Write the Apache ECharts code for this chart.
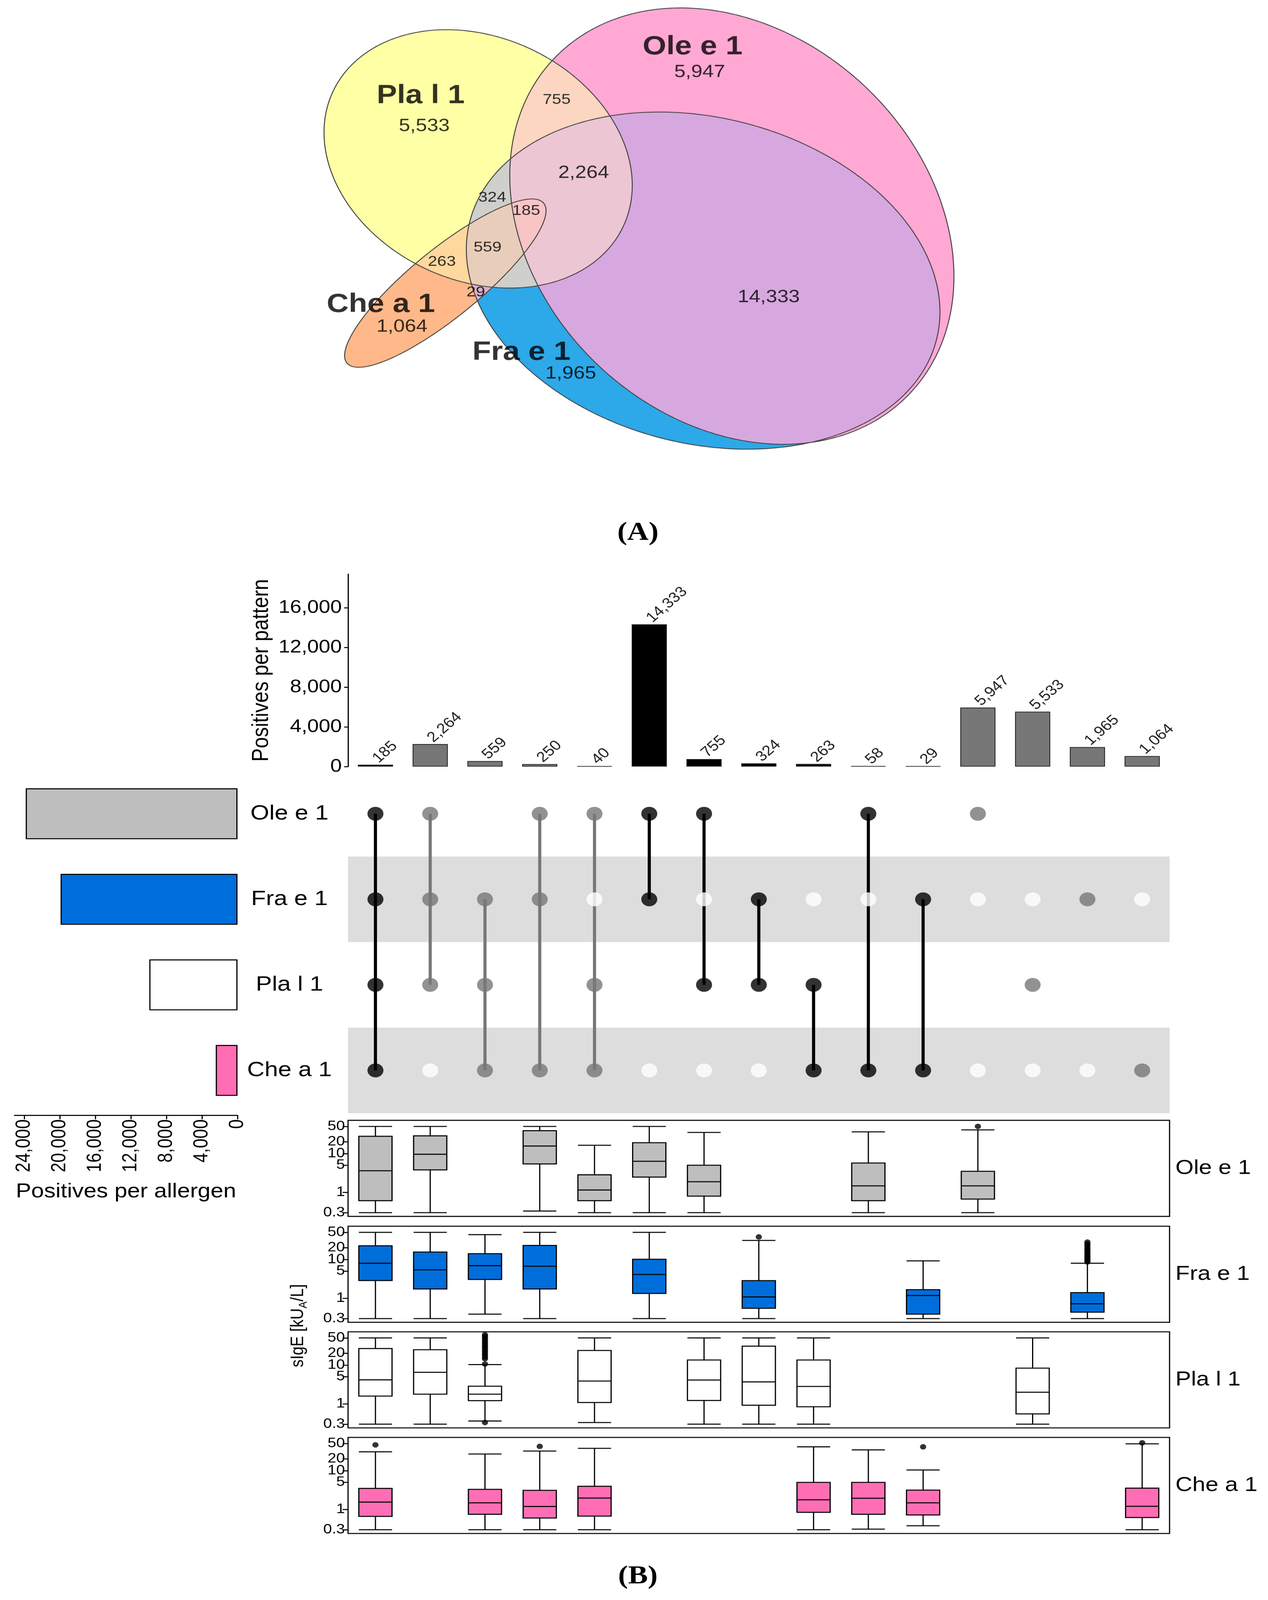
<!DOCTYPE html>
<html><head><meta charset="utf-8">
<script src="https://cdn.jsdelivr.net/npm/echarts@6/dist/echarts.min.js"></script>
<style>html,body{margin:0;padding:0;background:#fff;overflow:hidden}#c{width:3246px;height:4713px;transform-origin:0 0}</style>
</head><body><div id="c"></div>
<script>
// ---------------- DATA ----------------
const allergens = ['Ole e 1','Fra e 1','Pla l 1','Che a 1'];
const patterns = ['OFPC','OFP','FPC','OFC','OPC','OF','OP','FP','PC','OC','FC','O','P','F','C'];
const patternCounts = [185,2264,559,250,40,14333,755,324,263,58,29,5947,5533,1965,1064];
// membership per pattern: [Ole, Fra, Pla, Che]
const patternMembers = [
  [1,1,1,1],[1,1,1,0],[0,1,1,1],[1,1,0,1],[1,0,1,1],[1,1,0,0],[1,0,1,0],
  [0,1,1,0],[0,0,1,1],[1,0,0,1],[0,1,0,1],[1,0,0,0],[0,0,1,0],[0,1,0,0],[0,0,0,1]
];
const patternDark = [1,0,0,0,0,1,1,1,1,1,1,0,0,0,0];
const allergenTotals = [23832,19909,9923,2448];
const countTicks = [0,4000,8000,12000,16000];
const allergenTicks = [0,4000,8000,12000,16000,20000,24000];
const sigeTicks = [0.3,1,5,10,20,50];

// boxplots: [patternIndex, min, Q1, median, Q3, max] in kU/L
const oleBox = [[0,0.3,0.61,3.6,27.9,50],[1,0.3,3.8,9.6,28.5,50],[3,0.33,5.4,15.6,38.9,50],[4,0.3,0.61,1.15,2.83,16.3],[5,0.3,2.47,6.3,19.0,50],[6,0.3,0.8,1.87,5.0,34.9],[9,0.3,0.61,1.47,5.7,36.2],[11,0.3,0.67,1.47,3.48,40.6]];
const oleOut = [[11,50]];
const fraBox = [[0,0.3,2.86,8.0,22.6,50],[1,0.3,1.74,5.4,15.5,50],[2,0.39,3.05,6.9,14.1,43.7],[3,0.3,1.74,6.7,23.0,50],[5,0.3,1.33,4.1,10.1,50],[7,0.3,0.55,1.08,2.84,31],[10,0.3,0.39,1.18,1.67,9.2],[13,0.3,0.44,0.72,1.40,8.0]];
const fraOut = [[7,38],[13,8.6],[13,9.4],[13,10.3],[13,11.2],[13,12.2],[13,13.4],[13,14.8],[13,16.3],[13,18],[13,20],[13,22.5],[13,25],[13,28]];
const plaBox = [[0,0.3,1.59,4.16,26.6,50],[1,0.3,1.77,6.5,24.8,50],[2,0.36,1.21,1.77,2.85,10.3],[4,0.33,1.08,3.87,23.7,50],[6,0.3,1.22,4.1,13.5,50],[7,0.3,0.92,3.67,30.7,50],[8,0.3,0.84,2.8,13.5,50],[12,0.3,0.55,1.99,8.3,50]];
const plaOut = [[2,0.33],[2,10.6],[2,14.5],[2,16],[2,18],[2,20],[2,22.5],[2,25],[2,28],[2,31],[2,35],[2,39],[2,44],[2,49],[2,55],[2,60]];
const cheBox = [[0,0.3,0.66,1.55,3.48,30.5],[2,0.3,0.75,1.48,3.3,26.7],[3,0.3,0.6,1.19,3.1,31.9],[4,0.3,0.67,1.96,3.94,37.5],[8,0.3,0.84,1.77,4.98,41],[9,0.31,0.75,1.94,4.98,34.3],[10,0.38,0.72,1.48,3.15,10.4],[14,0.3,0.62,1.2,3.54,49]];
const cheOut = [[0,46],[3,42],[10,41],[14,52]];

// Euler diagram ellipses (diagram units): centre, semi-axes, rotation (deg)
const vennEllipses = [
  {set:'Ole e 1', cx:624.5, cy:222, rx:174, ry:227, rot:-31},
  {set:'Fra e 1', cx:600, cy:275.5, rx:208, ry:158, rot:21.4},
  {set:'Pla l 1', cx:408, cy:156, rx:142, ry:115, rot:40},
  {set:'Che a 1', cx:380, cy:278, rx:115, ry:31.5, rot:-43.7}
];
const vennTitles = [['Ole e 1',591,46],['Pla l 1',359,94],['Che a 1',325,299],['Fra e 1',445,346]];
// [patternIndex, x, y, big]
const vennCounts = [[11,597,71,1],[12,362,124,1],[6,475,98,0],[1,498,170,1],[7,420,194,0],[0,449,207,0],[2,416,243,0],[8,377,257,0],[10,406,287,0],[14,343,321,1],[13,487,367,1],[5,656,292,1]];

// ---------------- STYLE ----------------
const FONT = '"Liberation Sans", Arial, Helvetica, sans-serif';
const SERIF = '"Liberation Serif", "DejaVu Serif", serif';
const boxColors = ['#BEBEBE','#006EDA','#FFFFFF','#FF6EB4'];
const regionColors = {1:'#FFA8D4',2:'#2DA8E8',4:'#FFFFA6',8:'#FFB889',3:'#D7A8DF',5:'#FDD6C1',6:'#CFCFCB',9:'#F5B3BE',10:'#D9B0CB',12:'#FFD89E',7:'#ECC6D3',11:'#F2B8C8',13:'#F9C9B8',14:'#E8CDBA',15:'#F8C4C6'};
const fmt = v => String(v).replace(/\B(?=(\d{3})+(?!\d))/g, ',');
const L10 = Math.log10;

// ---------------- GEOMETRY (Euler regions) ----------------
function ellipsePoly(e, n) {
  const th = e.rot*Math.PI/180, c = Math.cos(th), s = Math.sin(th), pts = [];
  for (let i=0;i<n;i++){ const t = 2*Math.PI*i/n, u = e.rx*Math.cos(t), v = e.ry*Math.sin(t);
    pts.push([e.cx + u*c - v*s, e.cy + u*s + v*c]); }
  return pts;
}
function clip(subject, clipP) {
  let area = 0;
  for (let i=0;i<clipP.length;i++){ const j=(i+1)%clipP.length; area += clipP[i][0]*clipP[j][1]-clipP[j][0]*clipP[i][1]; }
  const sg = area>0?1:-1;
  let out = subject;
  for (let i=0;i<clipP.length && out.length;i++){
    const a = clipP[i], b = clipP[(i+1)%clipP.length], inp = out; out = [];
    const inside = p => sg*((b[0]-a[0])*(p[1]-a[1])-(b[1]-a[1])*(p[0]-a[0])) >= 0;
    const inter = (p,q) => { const d=(p[0]-q[0])*(a[1]-b[1])-(p[1]-q[1])*(a[0]-b[0]);
      const t=((p[0]-a[0])*(a[1]-b[1])-(p[1]-a[1])*(a[0]-b[0]))/d; return [p[0]+t*(q[0]-p[0]), p[1]+t*(q[1]-p[1])]; };
    for (let k=0;k<inp.length;k++){ const cur=inp[k], prev=inp[(k+inp.length-1)%inp.length];
      const ci=inside(cur), pi=inside(prev);
      if (ci){ if(!pi) out.push(inter(prev,cur)); out.push(cur);} else if (pi) out.push(inter(prev,cur)); }
  }
  return out;
}
const ellPolys = vennEllipses.map(e => ellipsePoly(e, 360));
const popc = m => (m&1)+((m>>1)&1)+((m>>2)&1)+((m>>3)&1);
const masks = []; for (let m=1;m<16;m++) masks.push(m);
masks.sort((a,b)=>popc(a)-popc(b) || a-b);
const regionPolys = {};
masks.forEach(m => { let poly=null; for (let i=0;i<4;i++) if (m&(1<<i)) poly = poly ? clip(poly, ellPolys[i]) : ellPolys[i].slice(); regionPolys[m]=poly; });

// ---------------- LAYOUT ----------------
const GX = 891, GW = 2103;
const boxTops = [3300,3612,3923,4234], BOXH = 283;
const logMin = L10(0.24), logMax = L10(71.8);

const dotData = [], lineData = [];
patternMembers.forEach((m,c) => {
  m.forEach((on,r) => {
    if (on) dotData.push({value:[c,r], itemStyle:{color: patternDark[c]?'#000':'#777'}});
    else if (r%2===1) dotData.push({value:[c,r], itemStyle:{color:'#fff'}});
  });
  const rows = m.map((v,r)=>v?r:-1).filter(r=>r>=0);
  if (rows.length>1) lineData.push([c, rows[0], rows[rows.length-1], patternDark[c]]);
});

const grids = [
  {left:0, top:0, width:3246, height:1500},
  {left:GX, top:1691, width:GW, height:567},
  {left:GX, top:2271, width:GW, height:1008},
  {left:37, top:2271, width:571, height:1008}
];
boxTops.forEach(t => grids.push({left:GX, top:t, width:GW, height:BOXH, show:true, borderColor:'#000', borderWidth:3, backgroundColor:'rgba(0,0,0,0)'}));

const xAxes = [
  {gridIndex:0, type:'value', min:0, max:1082, show:false},
  {gridIndex:1, type:'category', data:patterns, axisLine:{show:false}, axisTick:{show:false}, axisLabel:{show:false}},
  {gridIndex:2, type:'category', data:patterns, show:false},
  {gridIndex:3, type:'value', inverse:true, min:0, max:25100, offset:6,
   axisLine:{show:true, lineStyle:{color:'#000', width:3}},
   axisTick:{show:true, length:12, lineStyle:{color:'#000', width:3}, customValues:allergenTicks},
   axisLabel:{rotate:90, fontSize:51, color:'#000', fontFamily:FONT, margin:12, customValues:allergenTicks, formatter:v=>fmt(v)},
   splitLine:{show:false},
   name:'Positives per allergen', nameLocation:'middle', nameGap:196, nameTextStyle:{fontSize:59, color:'#000', fontFamily:FONT}}
];
const yAxes = [
  {gridIndex:0, type:'value', min:0, max:500, inverse:true, show:false},
  {gridIndex:1, type:'value', min:0, max:19400,
   axisLine:{show:true, lineStyle:{color:'#000', width:3}},
   axisTick:{show:true, length:10, lineStyle:{color:'#000', width:3}, customValues:countTicks},
   axisLabel:{fontSize:53, color:'#000', fontFamily:FONT, margin:16, customValues:countTicks, formatter:v=>fmt(v)},
   splitLine:{show:false},
   name:'Positives per pattern', nameLocation:'middle', nameGap:192, nameTextStyle:{fontSize:59, color:'#000', fontFamily:FONT}},
  {gridIndex:2, type:'category', data:allergens, inverse:true, axisLine:{show:false}, axisTick:{show:false},
   axisLabel:{fontSize:62, color:'#000', fontFamily:FONT, align:'center', margin:150}},
  {gridIndex:3, type:'category', data:allergens, inverse:true, show:false}
];
const sigeLog = sigeTicks.map(v=>L10(v));
boxTops.forEach((t,k) => {
  xAxes.push({gridIndex:4+k, type:'category', data:patterns, show:false});
  yAxes.push({gridIndex:4+k, type:'value', min:logMin, max:logMax,
    axisLine:{show:false},
    axisTick:{show:true, length:14, lineStyle:{color:'#000', width:3}, customValues:sigeLog},
    axisLabel:{fontSize:40, color:'#000', fontFamily:FONT, margin:8, customValues:sigeLog, formatter:v=>String(+Math.pow(10,v).toPrecision(1))},
    splitLine:{show:false}});
});

const series = [];
// Euler regions
series.push({type:'custom', xAxisIndex:0, yAxisIndex:0, clip:false, silent:true,
  data: masks.map(m=>[m]),
  renderItem:(params, api) => { const m = api.value(0), poly = regionPolys[m];
    if (!poly || poly.length<3) return null;
    return {type:'polygon', z2: popc(m), shape:{points: poly.map(p=>api.coord(p))}, style:{fill: regionColors[m], stroke:null}}; }
});
series.push({type:'custom', xAxisIndex:0, yAxisIndex:0, clip:false, silent:true, z:3,
  data: vennEllipses.map((e,i)=>[i]),
  renderItem:(params, api) => ({type:'polygon', shape:{points: ellPolys[api.value(0)].map(p=>api.coord(p))}, style:{fill:'none', stroke:'#444', lineWidth:2.5}})
});
series.push({type:'scatter', xAxisIndex:0, yAxisIndex:0, silent:true, z:5, symbolSize:1, itemStyle:{color:'rgba(0,0,0,0)'},
  label:{show:true, position:'inside', formatter:'{b}', color:'#000', fontFamily:FONT},
  data: vennTitles.map(t=>({name:t[0], value:[t[1],t[2]], label:{fontSize:78, fontWeight:'bold', color:'#000'}}))
    .concat(vennCounts.map(c=>({name:fmt(patternCounts[c[0]]), value:[c[1],c[2]], label:{fontSize: c[3]?52:43, color:'#000'}})))
});
// top bars
series.push({type:'bar', xAxisIndex:1, yAxisIndex:1, barWidth:90, silent:true,
  data: patternCounts.map((v,i)=>({value:v, itemStyle:{color: patternDark[i]?'#000':'#777'}})),
  itemStyle:{borderColor:'#1a1a1a', borderWidth:2},
  label:{show:true, position:'top', rotate:45, align:'left', verticalAlign:'middle', distance:12, fontSize:42, color:'#222', fontFamily:FONT, formatter:p=>fmt(p.value)}
});
// matrix bands
series.push({type:'custom', xAxisIndex:2, yAxisIndex:2, silent:true, z:0,
  data: allergens.map((a,r)=>[0,r]).filter(d=>d[1]%2===1),
  renderItem:(params, api) => { const cs = params.coordSys, p = api.coord([0, api.value(1)]), h = api.size([0,1])[1];
    return {type:'rect', shape:{x:cs.x, y:p[1]-h/2, width:cs.width, height:h}, style:{fill:'#DDDDDD'}}; }
});
// matrix lines
series.push({type:'custom', xAxisIndex:2, yAxisIndex:2, silent:true, z:2,
  data: lineData, encode:{x:0, y:[1,2]},
  renderItem:(params, api) => { const a = api.coord([api.value(0), api.value(1)]), b = api.coord([api.value(0), api.value(2)]);
    return {type:'line', shape:{x1:a[0], y1:a[1], x2:b[0], y2:b[1]}, style:{stroke: api.value(3)?'#000':'#777', lineWidth:8}}; }
});
// matrix dots
series.push({type:'scatter', xAxisIndex:2, yAxisIndex:2, silent:true, z:3, symbolSize:41, data:dotData});
// left bars
series.push({type:'bar', xAxisIndex:3, yAxisIndex:3, barWidth:150, silent:true,
  data: allergenTotals.map((v,i)=>({value:v, itemStyle:{color:boxColors[i]}})),
  itemStyle:{borderColor:'#000', borderWidth:3}
});
// boxplots
const boxSets = [[oleBox,oleOut],[fraBox,fraOut],[plaBox,plaOut],[cheBox,cheOut]];
boxSets.forEach((bs,k) => {
  series.push({type:'boxplot', xAxisIndex:4+k, yAxisIndex:4+k, silent:true, boxWidth:[85,85],
    encode:{x:0, y:[1,2,3,4,5]},
    itemStyle:{color:boxColors[k], borderColor:'#000', borderWidth:3},
    data: bs[0].map(r=>[r[0]].concat(r.slice(1).map(L10)))
  });
  series.push({type:'scatter', xAxisIndex:4+k, yAxisIndex:4+k, silent:true, symbolSize:16, itemStyle:{color:'#000'},
    data: bs[1].map(o=>[o[0], L10(o[1])])});
});

const graphic = [
  {type:'text', x:1633, y:1570, style:{text:'(A)', fontSize:76, fontWeight:'bold', fontFamily:SERIF, fill:'#000', align:'center', verticalAlign:'middle'}},
  {type:'text', x:1633, y:4644, style:{text:'(B)', fontSize:76, fontWeight:'bold', fontFamily:SERIF, fill:'#000', align:'center', verticalAlign:'middle'}},
  {type:'text', x:763, y:3905, rotation:Math.PI/2, style:{text:'{n|sIgE [kU}{s|A}{n|/L]}', fill:'#000', align:'center', verticalAlign:'middle',
    rich:{n:{fontSize:46, fontFamily:FONT, lineHeight:58, verticalAlign:'middle', fill:'#000'}, s:{fontSize:30, fontFamily:FONT, lineHeight:58, verticalAlign:'bottom', fill:'#000'}}}}
];
boxTops.forEach((t,k) => graphic.push({type:'text', x:3009, y:t+BOXH/2, style:{text:allergens[k], fontSize:60, fontFamily:FONT, fill:'#000', align:'left', verticalAlign:'middle'}}));

// fit the full 3246x4713 figure into the available window height
const el = document.getElementById('c');
const fitY = Math.min(1, (window.innerHeight || 4713) / 4713);
if (fitY < 1) el.style.transform = 'scale(1,' + fitY + ')';

const chart = echarts.init(el, null, {renderer:'canvas', width:3246, height:4713});
chart.setOption({animation:false, backgroundColor:'#fff', textStyle:{fontFamily:FONT},
  grid:grids, xAxis:xAxes, yAxis:yAxes, series:series, graphic:graphic});
</script></body></html>
